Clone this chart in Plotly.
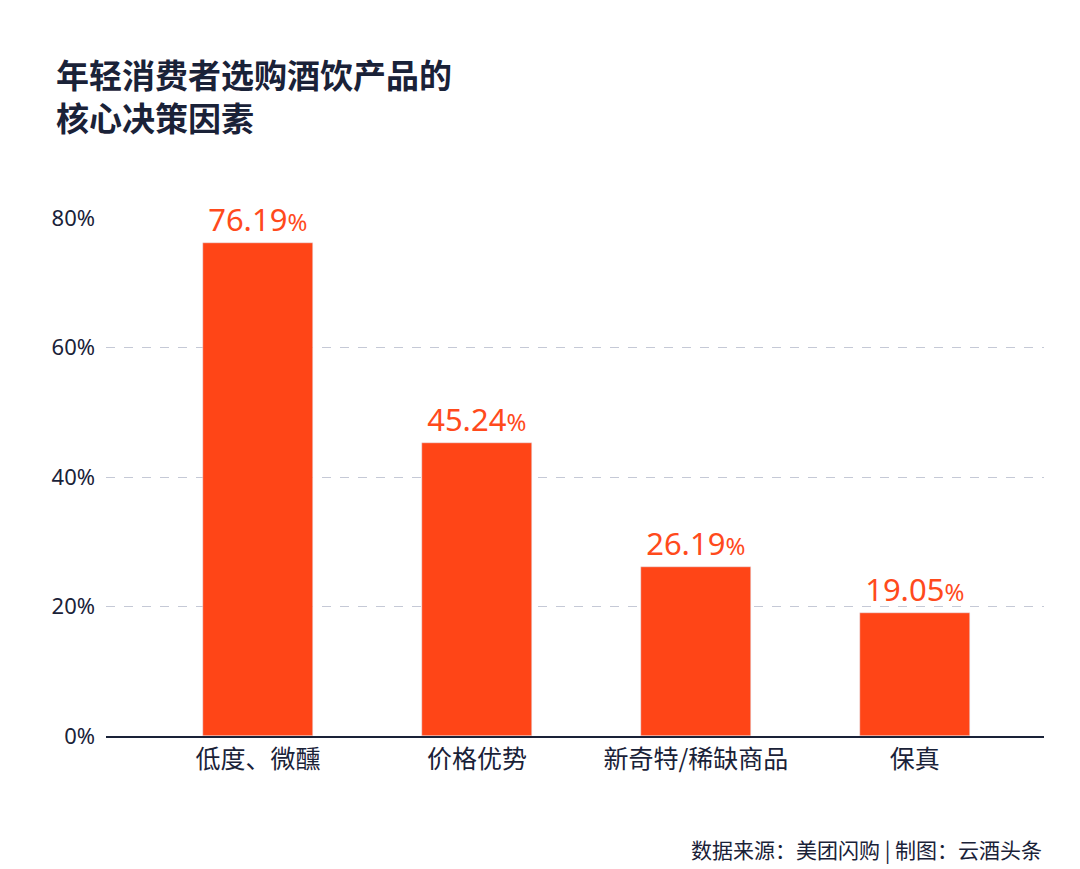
import plotly.graph_objects as go

categories = ["低度、微醺", "价格优势", "新奇特/稀缺商品", "保真"]
values = [76.19, 45.24, 26.19, 19.05]
tick_vals = [0, 20, 40, 60, 80]
tick_text = ["0%", "20%", "40%", "60%", "80%"]

xs = list(range(len(categories)))
fig = go.Figure(go.Bar(
    x=xs, y=values, width=0.5, marker_color="#FF4517",
    text=[f"{v:.2f}<span style='font-size:24px'>%</span>" for v in values],
    textposition="outside", cliponaxis=False,
    textfont=dict(size=31, color="#FF4A1C", family="Noto Sans"),
))
fig.update_layout(
    width=1080, height=869, plot_bgcolor="white", paper_bgcolor="white",
    margin=dict(l=98, r=44, t=210, b=141),
    showlegend=False, bargap=0,
    font=dict(family="Noto Sans CJK SC", color="#1a2238"),
)
fig.add_annotation(text="<b>年轻消费者选购酒饮产品的<br>核心决策因素</b>", xref="paper", yref="paper",
                   x=-0.055, y=1.0 + 170/518, xanchor="left", yanchor="top", align="left",
                   showarrow=False, font=dict(size=33, color="#1a2238", family="Noto Sans CJK SC"))
fig.update_xaxes(range=[-0.694, 3.59], tickvals=xs, ticktext=categories,
                 tickfont=dict(size=25, color="#1a2238"), showgrid=False,
                 showline=True, linecolor="#1a2238", linewidth=2, ticks="")
fig.update_yaxes(range=[0, 80.05], tickvals=tick_vals, ticktext=tick_text,
                 tickfont=dict(size=22, color="#1a2238", family="Noto Sans"),
                 showgrid=True, gridcolor="#c5c9d6", griddash="dash", gridwidth=1,
                 zeroline=False, ticks="", ticklabelstandoff=10)
fig.add_annotation(text="数据来源：美团闪购 | 制图：云酒头条", xref="paper", yref="paper",
                   x=1.0, y=-0.25, xanchor="right", yanchor="bottom", showarrow=False,
                   font=dict(size=21, color="#1a2238"))
fig.write_html("out.html")
